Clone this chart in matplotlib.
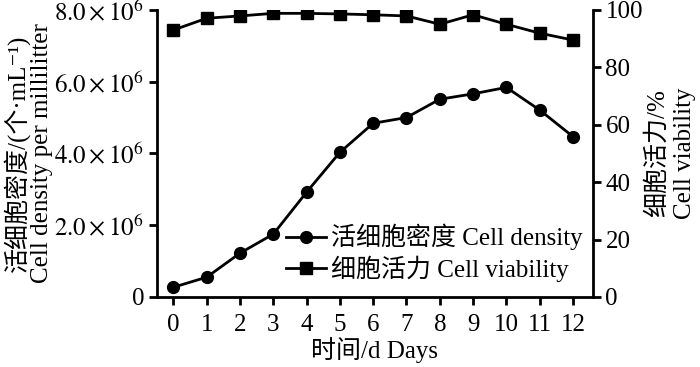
import matplotlib
matplotlib.use('Agg')
import matplotlib.pyplot as plt

plt.rcParams['font.family'] = ['Liberation Serif', 'Noto Sans CJK SC', 'DejaVu Sans']
plt.rcParams['mathtext.fontset'] = 'stix'
plt.rcParams['axes.unicode_minus'] = False

days = [0, 1, 2, 3, 4, 5, 6, 7, 8, 9, 10, 11, 12]
density = [0.27e6, 0.55e6, 1.22e6, 1.75e6, 2.92e6, 4.03e6, 4.84e6, 5.0e6,
           5.51e6, 5.66e6, 5.84e6, 5.21e6, 4.47e6]
viability = [93.0, 97.1, 97.9, 98.8, 98.8, 98.6, 98.3, 97.9, 95.0, 98.3,
             95.0, 91.9, 89.5]
left_ticks = [0, 2e6, 4e6, 6e6, 8e6]
left_labels = ['0', r'$2.0\times10^{6}$', r'$4.0\times10^{6}$',
               r'$6.0\times10^{6}$', r'$8.0\times10^{6}$']
right_ticks = [0, 20, 40, 60, 80, 100]

fs = 18
fig = plt.figure(figsize=(7, 3.67), dpi=100)
ax1 = fig.add_axes([0.224, 0.191, 0.623, 0.782])
ax2 = ax1.twinx()

l1, = ax1.plot(days, density, color='black', lw=2, marker='o', ms=8.5,
               label='活细胞密度 Cell density')
l2, = ax2.plot(days, viability, color='black', lw=2, marker='s', ms=8.5,
               label='细胞活力 Cell viability')

ax1.set_xlim(-0.5, 12.6)
ax1.set_ylim(0, 8e6)
ax2.set_ylim(0, 100)
ax1.set_xticks(days)
ax1.set_yticks(left_ticks)
ax1.set_yticklabels(left_labels)
ax2.set_yticks(right_ticks)

for ax in (ax1, ax2):
    ax.spines['top'].set_visible(False)
    for s in ax.spines.values():
        s.set_linewidth(2)
    ax.tick_params(direction='out', length=6, width=2, labelsize=fs, pad=3)
ax1.tick_params(axis='x', pad=6)
ax1.spines['right'].set_visible(False)
ax2.spines['left'].set_visible(False)
ax2.spines['bottom'].set_visible(False)

ax1.set_xlabel('时间/d Days', fontsize=fs, labelpad=1)
ax1.set_ylabel('活细胞密度/(个·mL⁻¹)\nCell density per millilitter', fontsize=fs,
               linespacing=1.05, labelpad=1)
ax2.set_ylabel('细胞活力/%\nCell viability', fontsize=fs, rotation=90,
               linespacing=1.3, labelpad=2)

ax2.legend(handles=[l1, l2], loc='lower right', bbox_to_anchor=(1.0, 0.018),
           frameon=False, fontsize=fs, handlelength=1.6, handletextpad=0.2,
           labelspacing=0.2, borderaxespad=0.0)

fig.savefig('out.png', dpi=100)
